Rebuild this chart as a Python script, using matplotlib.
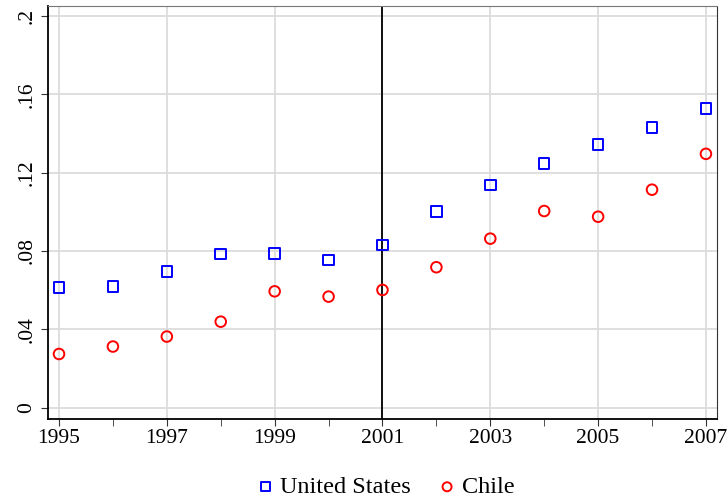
import numpy as np
import matplotlib.pyplot as plt

years = np.arange(1995, 2008)
us = [0.0613, 0.0618, 0.0695, 0.0785, 0.0786, 0.0753, 0.0831,
      0.1003, 0.1137, 0.1248, 0.1343, 0.1430, 0.1527]
chile = [0.0274, 0.0312, 0.0363, 0.0439, 0.0594, 0.0567, 0.0601,
         0.0717, 0.0863, 0.1004, 0.0975, 0.1113, 0.1296]
yticks = [0, 0.04, 0.08, 0.12, 0.16, 0.2]
ytick_labels = ['0', '.04', '.08', '.12', '.16', '.2']
xticks = [1995, 1997, 1999, 2001, 2003, 2005, 2007]
break_year = 2001

plt.rcParams['font.family'] = ['Liberation Serif', 'DejaVu Serif']

fig = plt.figure(figsize=(7.27, 5), dpi=100)
ax = fig.add_axes([0.0656, 0.162, 0.921, 0.826])

ax.set_xticks(xticks)
ax.set_xticks(years, minor=True)
ax.set_yticks(yticks)
ax.set_yticklabels(ytick_labels, rotation=90, va='center')
ax.grid(True, which='major', color='#dcdcdc', linewidth=1.3, zorder=0)
ax.set_axisbelow(True)

ax.axvline(break_year, color='black', linewidth=1.3, zorder=2)

ax.scatter(years, us, marker='s', s=58, facecolors='none', edgecolors='#0000ff',
           linewidths=1.4, label='United States', zorder=3)
ax.scatter(years, chile, marker='o', s=58, facecolors='none', edgecolors='#ff0000',
           linewidths=1.4, label='Chile', zorder=3)

ax.set_xlim(1994.79, 2007.21)
ax.set_ylim(-0.0058, 0.2051)

ax.tick_params(axis='both', which='major', labelsize=15.5, length=5, color='#333333')
ax.tick_params(axis='x', which='minor', length=5, color='#333333')
ax.tick_params(axis='y', pad=3)
ax.tick_params(axis='x', pad=2)
for side in ['left', 'bottom']:
    ax.spines[side].set_color('black')
    ax.spines[side].set_linewidth(1.3)
ax.spines['top'].set_color('#777777')
ax.spines['right'].set_color('#333333')

ax.legend(loc='center', bbox_to_anchor=(0.5, -0.165), ncol=2, frameon=False,
          fontsize=17.5, handletextpad=0.0, handlelength=1.2, columnspacing=0.9,
          markerscale=0.85, borderpad=0)

fig.savefig('out.png', dpi=100)
